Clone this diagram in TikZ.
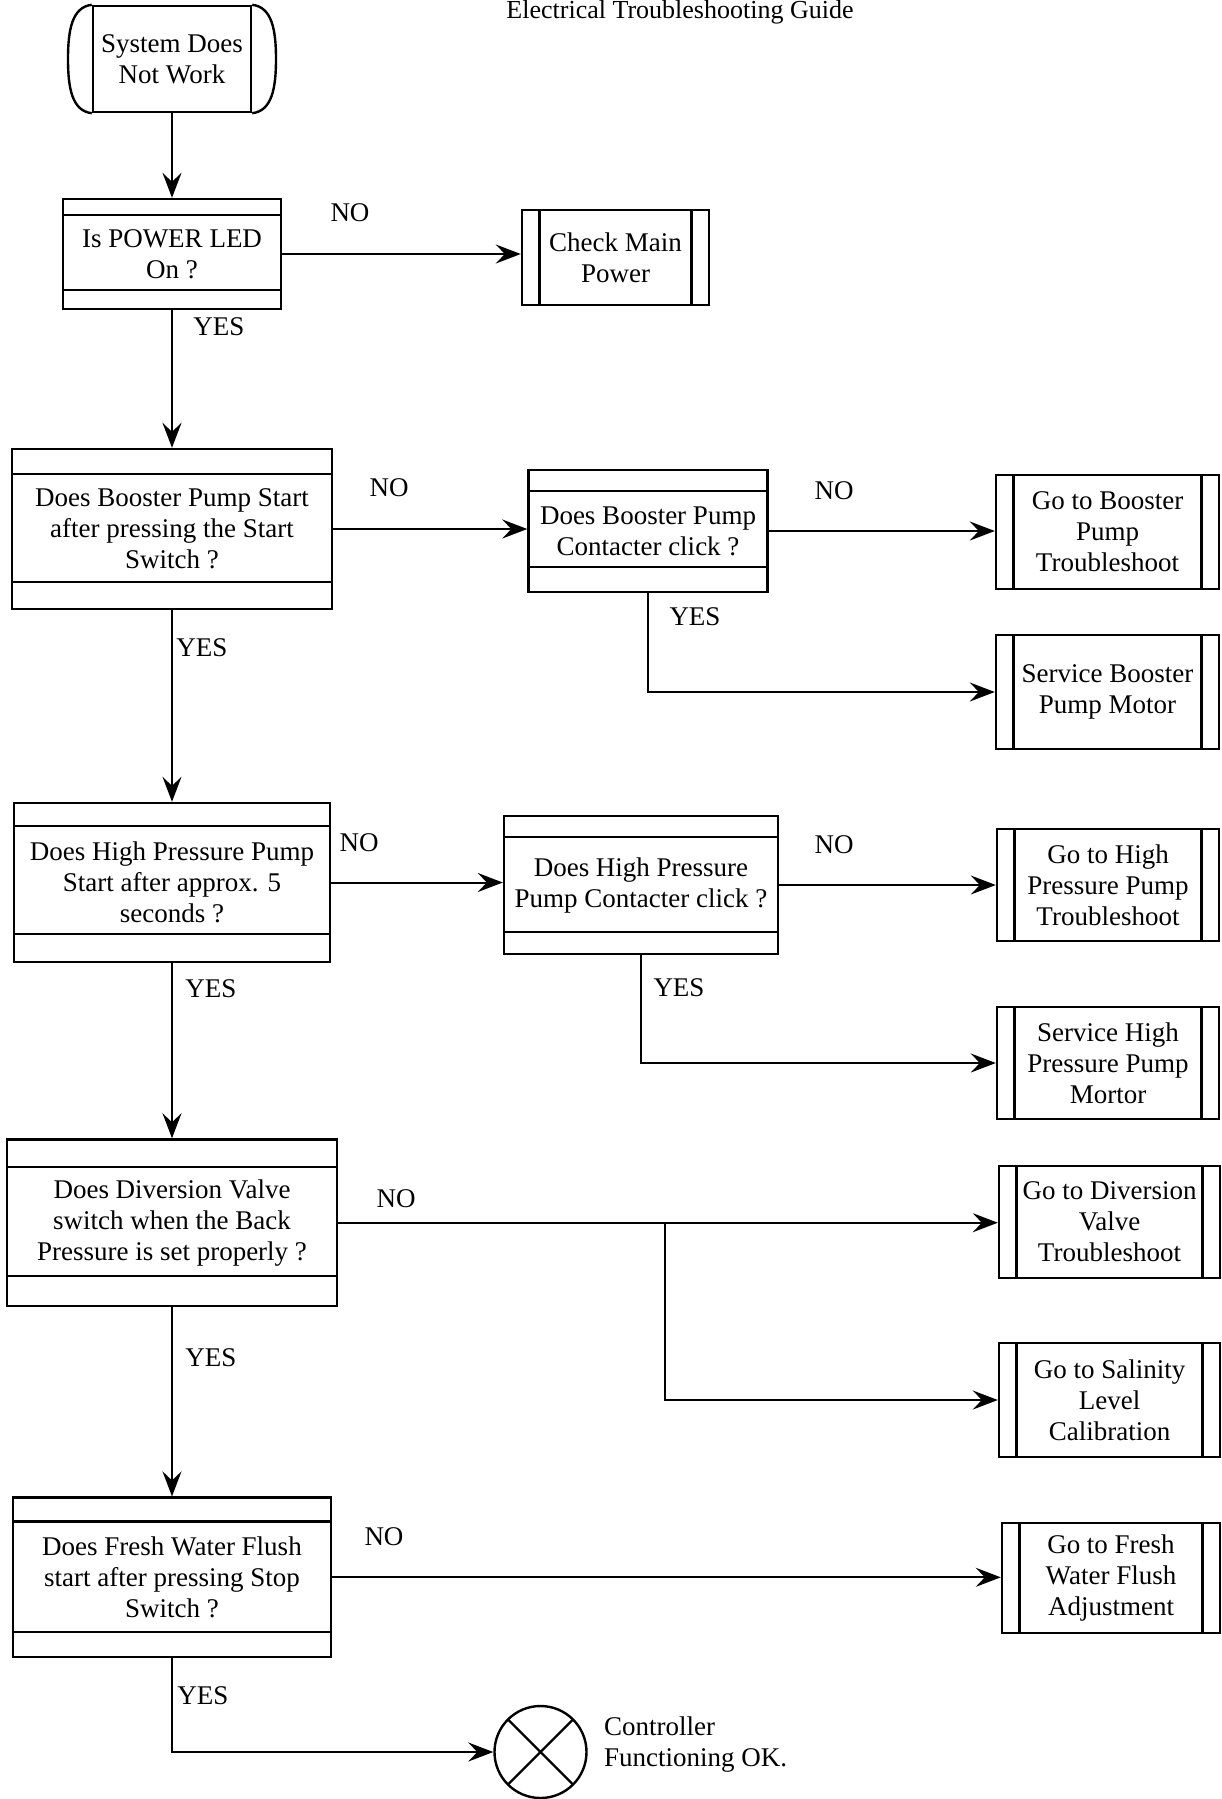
\documentclass[tikz,border=0pt]{standalone}
\usepackage{fontspec}
\setmainfont{Liberation Serif}
\usetikzlibrary{arrows.meta}
\newcommand\mainfs{\fontsize{13.5}{15.5}\selectfont}
\tikzset{
  base/.style={draw, line width=1.2pt, align=center, inner sep=0pt, font=\mainfs, rectangle},
  qbox/.style 2 args={base, path picture={
      \draw[line width=1.2pt] ([yshift=-#1]path picture bounding box.north west) -- ([yshift=-#1]path picture bounding box.north east);
      \draw[line width=1.2pt] ([yshift=#2]path picture bounding box.south west) -- ([yshift=#2]path picture bounding box.south east);}},
  pbox/.style={base, path picture={
      \draw[line width=1.2pt] ([xshift=8.75pt]path picture bounding box.north west) -- ([xshift=8.75pt]path picture bounding box.south west);
      \draw[line width=1.2pt] ([xshift=-8.75pt]path picture bounding box.north east) -- ([xshift=-8.75pt]path picture bounding box.south east);}},
  xcircle/.style={draw, circle, line width=1.2pt, minimum size=46pt, inner sep=0pt, path picture={
      \draw[line width=1.2pt] (path picture bounding box.north west) -- (path picture bounding box.south east);
      \draw[line width=1.2pt] (path picture bounding box.north east) -- (path picture bounding box.south west);}},
  lbl/.style={font=\mainfs, inner sep=0pt},
  arr/.style={line width=1pt, -{Stealth[length=12.5pt,width=9.5pt,inset=4.5pt]}},
  ln/.style={line width=1pt}
}
\begin{document}
\begin{tikzpicture}[x=0.5pt, y=-0.5pt]
\useasboundingbox (0,0) rectangle (1221,1799);
\fill[white] (0,0) rectangle (1221,1799);

% title
\node[lbl, font=\fontsize{13}{15}\selectfont, anchor=base] (title) at (680,18) {Electrical Troubleshooting Guide};

% start terminal
\node[base, minimum width=79pt, minimum height=53pt] (start) at (172,59) {System Does\\Not Work};
\draw[line width=1.2pt] (start.north west) .. controls (72,7) and (68,30) .. (68,59) .. controls (68,88) and (72,111) .. (start.south west);
\draw[line width=1.2pt] (start.north east) .. controls (272,7) and (276,30) .. (276,59) .. controls (276,88) and (272,111) .. (start.south east);

% row 1
\node[qbox={8pt}{9.5pt}, minimum width=109pt, minimum height=55pt] (b1) at (172,254) {Is POWER LED\\On ?};
\node[pbox, minimum width=93.5pt, minimum height=47.5pt] (cmp) at (615.5,257.5) {Check Main\\Power};

% row 2
\node[qbox={12.5pt}{13.5pt}, minimum width=160pt, minimum height=80pt] (b2) at (172,529) {Does Booster Pump Start\\after pressing the Start\\Switch ?};
\node[qbox={10.25pt}{12.5pt}, minimum width=119.5pt, minimum height=60.75pt] (b2b) at (648,531) {Does Booster Pump\\Contacter click ?};
\node[pbox, minimum width=111.5pt, minimum height=57pt] (gbt) at (1107.5,532) {Go to Booster\\Pump\\Troubleshoot};
\node[pbox, minimum width=111.5pt, minimum height=57pt] (sbm) at (1107.5,692) {Service Booster\\Pump Motor};

% row 3
\node[qbox={11.5pt}{14pt}, minimum width=158pt, minimum height=79.5pt] (b3) at (172,882.5) {Does High Pressure Pump\\Start after approx. 5\\seconds ?};
\node[qbox={10.5pt}{11pt}, minimum width=137pt, minimum height=69pt] (b3b) at (641,885) {Does High Pressure\\Pump Contacter click ?};
\node[pbox, minimum width=111pt, minimum height=56.2pt] (ghp) at (1108,885) {Go to High\\Pressure Pump\\Troubleshoot};
\node[pbox, minimum width=111pt, minimum height=56.2pt] (shp) at (1108,1063) {Service High\\Pressure Pump\\Mortor};

% row 4
\node[qbox={13.75pt}{15pt}, minimum width=165pt, minimum height=83.25pt] (b4) at (172,1222.7) {Does Diversion Valve\\switch when the Back\\Pressure is set properly ?};
\node[pbox, minimum width=110.5pt, minimum height=56pt] (gdv) at (1109.5,1222) {Go to Diversion\\Valve\\Troubleshoot};
\node[pbox, minimum width=110.5pt, minimum height=57.25pt] (gsl) at (1109.5,1400) {Go to Salinity\\Level\\Calibration};

% row 5
\node[qbox={12pt}{12.5pt}, minimum width=159pt, minimum height=79.7pt] (b5) at (172,1577.3) {Does Fresh Water Flush\\start after pressing Stop\\Switch ?};
\node[pbox, minimum width=109pt, minimum height=55pt] (gfw) at (1111,1578) {Go to Fresh\\Water Flush\\Adjustment};

% end
\node[xcircle] (ok) at (540.5,1752) {};
\node[lbl, align=left, anchor=west] (oktext) at (603.6,1744.5) {Controller\\Functioning OK.};

% labels
\node[lbl] (no1) at (350,213) {NO};
\node[lbl] (yes1) at (219,327) {YES};
\node[lbl] (no2) at (389,488) {NO};
\node[lbl] (no2b) at (834,491) {NO};
\node[lbl] (yes2b) at (695,617) {YES};
\node[lbl] (yes2) at (202,648) {YES};
\node[lbl] (no3) at (359,843) {NO};
\node[lbl] (no3b) at (834,845) {NO};
\node[lbl] (yes3b) at (679,988) {YES};
\node[lbl] (yes3) at (211,989) {YES};
\node[lbl] (no4) at (396,1199) {NO};
\node[lbl] (yes4) at (211,1358) {YES};
\node[lbl] (no5) at (384,1537) {NO};
\node[lbl] (yes5) at (203,1696) {YES};

% connectors
\draw[arr] (start.south) -- (b1.north);
\draw[arr] (b1.east) -- (b1.east -| cmp.west);
\draw[arr] (b1.south) -- (b2.north);
\draw[arr] (b2.east) -- (b2.east -| b2b.west);
\draw[arr] (b2b.east) -- (b2b.east -| gbt.west);
\draw[arr] (b2b.south) |- (sbm.west);
\draw[arr] (b2.south) -- (b3.north);
\draw[arr] (b3.east) -- (b3.east -| b3b.west);
\draw[arr] (b3b.east) -- (b3b.east -| ghp.west);
\draw[arr] (b3b.south) |- (shp.west);
\draw[arr] (b3.south) -- (b4.north);
\draw[arr] (b4.east) -- (b4.east -| gdv.west);
\coordinate (j4) at ([xshift=163.5pt]b4.east);
\draw[arr] (j4) |- (gsl.west);
\draw[arr] (b4.south) -- (b5.north);
\draw[arr] (b5.east) -- (b5.east -| gfw.west);
\draw[arr] (b5.south) |- (ok.west);
\end{tikzpicture}
\end{document}
